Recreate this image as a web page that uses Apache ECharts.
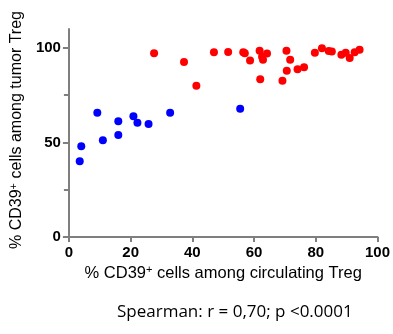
<!DOCTYPE html>
<html>
<head>
<meta charset="utf-8">
<script src="https://cdn.jsdelivr.net/npm/echarts@6/dist/echarts.min.js"></script>
<style>
  html, body { margin: 0; padding: 0; background: #fff; }
  #chart { width: 393px; height: 334px; }
</style>
</head>
<body>
<div id="chart"></div>
<script>
// blue group: [circulating Treg %, tumor Treg %]
var bluePoints = [
  [3.5, 40], [4, 48], [9.2, 65.7], [11, 51.2], [16, 54], [16, 61.2],
  [20.9, 63.8], [22.2, 60.4], [25.8, 59.7], [32.8, 65.7], [55.5, 67.8]
]
// red group
var redPoints = [
  [27.6, 97.2], [37.3, 92.6], [41.3, 80], [47, 97.7], [51.6, 97.9],
  [56.5, 97.7], [57, 97.2], [58.7, 93.4], [61.8, 98.5], [62, 83.4],
  [62.6, 95.3], [62.9, 93.7], [64.2, 97], [70.5, 98.5], [71.7, 93.7],
  [70.6, 87.9], [69.2, 82.6], [74.1, 88.7], [76.2, 89.8], [79.7, 97.4],
  [82, 99.8], [84.2, 98.3], [85.2, 98.1], [88.3, 96.4], [89.7, 97.5],
  [91, 94.6], [92.6, 97.7], [94.2, 99]
]
var xTicks = [0, 20, 40, 60, 80, 100]
var yTicks = [0, 50, 100]
var yMinorTicks = [25, 75]
var statText = 'Spearman: r = 0,70; p <0.0001'

var el = document.getElementById('chart')
var myChart = echarts.init(el)

var axisColor = '#7f7f7f'
var labelStyle = { color: '#000', fontWeight: 'bold', fontSize: 15, fontFamily: 'Liberation Sans' }
function nameRich(size) {
  return {
    a: { fontSize: size, fontFamily: 'Liberation Sans', color: '#000' },
    s: { fontSize: 11, fontFamily: 'Liberation Sans', color: '#000', padding: [0, 0, 7, 0] }
  }
}

var option = {
  animation: false,
  grid: { left: 66, right: 14, top: 29, bottom: 97 },
  xAxis: {
    type: 'value',
    min: 0, max: 100, interval: 20,
    splitLine: { show: false },
    axisLine: { lineStyle: { color: axisColor, width: 2 } },
    axisTick: { length: 5, lineStyle: { color: axisColor, width: 2 }, customValues: xTicks },
    axisLabel: Object.assign({ margin: 8, customValues: xTicks }, labelStyle),
    name: '{a|% CD39}{s|+}{a| cells among circulating Treg}',
    nameLocation: 'middle',
    nameGap: 25,
    nameTextStyle: { rich: nameRich(16.5) }
  },
  yAxis: [{
    type: 'value',
    min: 0, max: 110,
    splitLine: { show: false },
    axisLine: { show: true, lineStyle: { color: axisColor, width: 2 } },
    axisTick: { show: true, length: 6, lineStyle: { color: axisColor, width: 2 }, customValues: yTicks },
    axisLabel: Object.assign({ margin: 8, customValues: yTicks }, labelStyle),
    name: '{a|% CD39}{s|+}{a| cells among tumor Treg}',
    nameLocation: 'middle',
    nameGap: 40,
    nameTextStyle: { rich: nameRich(16), padding: [0, 0, 0, 6] }
  }, {
    type: 'value',
    position: 'left',
    min: 0, max: 110,
    splitLine: { show: false },
    axisLine: { show: false },
    axisTick: { show: true, length: 5, lineStyle: { color: axisColor, width: 2 }, customValues: yMinorTicks },
    axisLabel: { show: false }
  }],
  series: [{
    type: 'scatter',
    data: bluePoints,
    symbolSize: 8,
    itemStyle: { color: '#0000ff', opacity: 1 }
  }, {
    type: 'scatter',
    data: redPoints,
    symbolSize: 8,
    itemStyle: { color: '#ff0000', opacity: 1 }
  }],
  graphic: [{
    type: 'text',
    left: 117,
    top: 304,
    style: { text: statText, fontSize: 17, fontFamily: 'Open Sans', fill: '#000' }
  }]
}
myChart.setOption(option)
</script>
</body>
</html>
